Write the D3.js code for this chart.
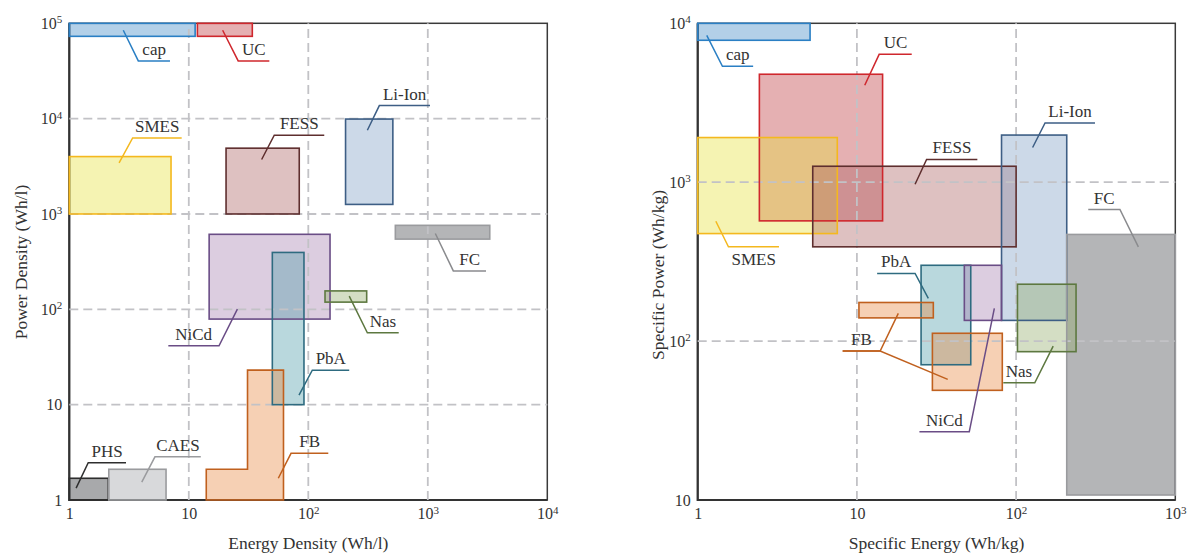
<!DOCTYPE html>
<html>
<head>
<meta charset="utf-8">
<script src="https://cdn.jsdelivr.net/npm/d3@7"></script>
<style>
  html, body { margin: 0; padding: 0; background: #fff; }
  svg text { font-family: "Liberation Serif", "Times New Roman", serif; fill: #333; }
</style>
</head>
<body>
<svg id="chart" width="1192" height="554"></svg>
<script>
// ---------- Volumetric comparison (per litre) ----------
const volTech     = ["cap", "UC", "SMES", "FESS", "Li-Ion", "FC", "NiCd", "PbA", "Nas", "PHS", "CAES"];
const volEnergyLo = [1,     11.8, 1,      20.5,   205,      535,  14.8,   50,    138,   1,     2.14];
const volEnergyHi = [11.3,  34,   7.1,    84,     510,      3300, 152,    92,    308,   2.12,  6.45];
const volPowerLo  = [73000, 73000, 1000,  1000,   1260,     545,  79,     10,    119,   1,     1];
const volPowerHi  = [100000,100000,4000,  4900,   9900,     760,  612,    395,   156,   1.69,  2.1];
// flow batteries cover a stepped region
const fbStepEnergy = [14, 31, 62];
const fbStepPower  = [1, 2.1, 23];

const volXTicks = [1, 10, 100, 1000, 10000];
const volYTicks = [1, 10, 100, 1000, 10000, 100000];

// ---------- Gravimetric comparison (per kg) ----------
const gravTech     = ["cap", "UC", "SMES", "FESS", "Li-Ion", "FC", "PbA", "NiCd", "FB", "FB", "Nas"];
const gravEnergyLo = [1,     2.44, 1,      5.28,   81,       208,  25.3,  47.3,   10.3, 29.8, 102];
const gravEnergyHi = [5.08,  14.5, 7.53,   100,    208,      1000, 51.9,  81,     30.2, 81.9, 238];
const gravPowerLo  = [7820,  571,  475,    392,    135,      10.75, 71,   135,    140,  49,   85.8];
const gravPowerHi  = [10000, 4780, 1910,   1260,   1980,     469,  300,   300,    175,  112,  228];

const gravXTicks = [1, 10, 100, 1000];
const gravYTicks = [10, 100, 1000, 10000];

// ---------- Callouts (anchor points and elbows in data units) ----------
const volCallouts = [
  { name: "cap",    anchors: [[2.83, 84500]], elbow: [3.78, 40300],  endX: 6.96 },
  { name: "UC",     anchors: [[19.2, 84500]], elbow: [25.9, 40300],  endX: 47.2 },
  { name: "SMES",   anchors: [[2.61, 3430]],  elbow: [3.39, 6280],   endX: 8.72 },
  { name: "FESS",   anchors: [[40.7, 3730]],  elbow: [51.9, 6700],   endX: 136 },
  { name: "Li-Ion", anchors: [[312, 7560]],   elbow: [393, 13700],   endX: 1043 },
  { name: "FC",     anchors: [[1156, 624]],   elbow: [1635, 253],    endX: 3070 },
  { name: "NiCd",   anchors: [[25.5, 100.5]], elbow: [17.9, 41.4],   endX: 6.74 },
  { name: "Nas",    anchors: [[220, 137.5]],  elbow: [312, 56.7],    endX: 571 },
  { name: "PbA",    anchors: [[83.6, 12.6]],  elbow: [108, 23.0],    endX: 220 },
  { name: "FB",     anchors: [[56.1, 1.69]],  elbow: [71.7, 3.09],   endX: 147 },
  { name: "PHS",    anchors: [[1.14, 1.33]],  elbow: [1.44, 2.46],   endX: 2.98 },
  { name: "CAES",   anchors: [[4.04, 1.54]],  elbow: [5.21, 2.84],   endX: 12.6 }
];
const gravCallouts = [
  { name: "cap",    anchors: [[1.14, 8400]],  elbow: [1.43, 5360],   endX: 2.23 },
  { name: "UC",     anchors: [[11.2, 4075]],  elbow: [13.8, 6380],   endX: 22.1 },
  { name: "SMES",   anchors: [[1.30, 568]],   elbow: [1.56, 392],    endX: 3.24, below: true },
  { name: "FESS",   anchors: [[23.2, 971]],   elbow: [27.4, 1390],   endX: 57.1 },
  { name: "Li-Ion", anchors: [[127, 1653]],   elbow: [152, 2360],    endX: 313 },
  { name: "FC",     anchors: [[586, 392]],    elbow: [449, 673],     endX: 284 },
  { name: "PbA",    anchors: [[28.1, 185.6]], elbow: [23.2, 266.6],  endX: 13.4 },
  { name: "FB",     anchors: [[18.2, 149.4], [37.2, 57.4]], elbow: [14.0, 86.5], endX: 8.14 },
  { name: "NiCd",   anchors: [[73.0, 160.6]], elbow: [50.8, 26.9],   endX: 24.7 },
  { name: "Nas",    anchors: [[171, 93.0]],   elbow: [131, 54.7],    endX: 83.1 }
];

// ---------- Styles ----------
const palette = {
  "cap":    { fill: "#4189c5", stroke: "#2a7fc4" },
  "UC":     { fill: "#be393e", stroke: "#cf272d" },
  "SMES":   { fill: "#e6e13e", stroke: "#f4b81e" },
  "FESS":   { fill: "#ac6464", stroke: "#5e2e2e" },
  "Li-Ion": { fill: "#7fa0c5", stroke: "#3d5e85" },
  "FC":     { fill: "#43454b", stroke: "#9a9b9e", lead: "#8a8b8e" },
  "NiCd":   { fill: "#a782b1", stroke: "#6a4d86" },
  "PbA":    { fill: "#509daa", stroke: "#2e6b80" },
  "Nas":    { fill: "#93ac6b", stroke: "#5d7840" },
  "FB":     { fill: "#e88943", stroke: "#c0601e" },
  "PHS":    { fill: "#26282d", stroke: "#2e2e2e" },
  "CAES":   { fill: "#9da0a5", stroke: "#9a9b9e" }
};
const FILL_OPACITY = 0.4;

const svg = d3.select("#chart");

// tick text as 1, 10, 10^n
function labelPow(sel) {
  sel.each(function (d) {
    const t = d3.select(this);
    t.text(null);
    const e = Math.round(Math.log10(d));
    if (e === 0) { t.text("1"); return; }
    if (e === 1) { t.text("10"); return; }
    t.append("tspan").text("10");
    t.append("tspan").attr("dy", "-0.5em").attr("font-size", "11px").text(e);
  });
}

function drawPanel(cfg) {
  const x = d3.scaleLog().domain(cfg.xDomain).range(cfg.xRange);
  const y = d3.scaleLog().domain(cfg.yDomain).range(cfg.yRange);
  const g = svg.append("g");
  const [x0, x1] = cfg.xRange, [y0, y1] = cfg.yRange; // y0 bottom, y1 top

  // frame
  g.append("rect").attr("x", x0).attr("y", y1).attr("width", x1 - x0).attr("height", y0 - y1)
    .attr("fill", "none").attr("stroke", "#3a3a3a").attr("stroke-width", 1.5);
  g.append("path").attr("d", `M${x0},${y1}V${y0}H${x1}`)
    .attr("fill", "none").attr("stroke", "#333").attr("stroke-width", 2.2);

  const shape = (sel, r) => {
    if (r.poly) {
      return sel.append("path").attr("d", d3.line().x(p => x(p[0])).y(p => y(p[1]))(r.poly) + "Z");
    }
    return sel.append("rect")
      .attr("x", x(r.xl)).attr("y", y(r.yh))
      .attr("width", x(r.xh) - x(r.xl)).attr("height", y(r.yl) - y(r.yh));
  };

  // region fills
  const fills = g.append("g").attr("fill-opacity", FILL_OPACITY).attr("stroke", "none");
  cfg.regions.forEach(r => shape(fills, r).attr("fill", palette[r.name].fill));

  // dashed grid over the fills
  const grid = g.append("g").attr("stroke", "#c2c2c6").attr("stroke-width", 1.8)
    .attr("stroke-dasharray", "9,5").attr("fill", "none");
  cfg.xGrid.forEach(v => grid.append("line").attr("x1", x(v)).attr("x2", x(v)).attr("y1", y0).attr("y2", y1));
  cfg.yGrid.forEach(v => grid.append("line").attr("y1", y(v)).attr("y2", y(v)).attr("x1", x0).attr("x2", x1));

  // region outlines
  const outlines = g.append("g").attr("fill", "none").attr("stroke-width", 1.6);
  cfg.regions.forEach(r => shape(outlines, r).attr("stroke", palette[r.name].stroke));

  // axes
  const ax = g.append("g").attr("transform", `translate(0,${y0})`)
    .call(d3.axisBottom(x).tickValues(cfg.xTicks).tickSize(0).tickPadding(8));
  const ay = g.append("g").attr("transform", `translate(${x0},0)`)
    .call(d3.axisLeft(y).tickValues(cfg.yTicks).tickSize(0).tickPadding(7));
  [ax, ay].forEach(a => {
    a.attr("font-family", null).attr("font-size", null);
    a.select(".domain").remove();
    a.selectAll("text").attr("font-size", "16px").attr("fill", "#333").call(labelPow);
  });

  // axis titles
  g.append("text").attr("x", (x0 + x1) / 2).attr("y", 549).attr("text-anchor", "middle")
    .attr("font-size", "17.5px").text(cfg.xTitle);
  g.append("text").attr("transform", `translate(${cfg.yTitlePos[0]},${cfg.yTitlePos[1]}) rotate(-90)`)
    .attr("text-anchor", "middle").attr("dy", "0.35em").attr("font-size", "17.5px").text(cfg.yTitle);

  // callouts
  const lead = g.append("g").attr("fill", "none").attr("stroke-width", 1.5);
  cfg.callouts.forEach(c => {
    const st = palette[c.name];
    const ex = x(c.elbow[0]), ey = y(c.elbow[1]), endx = x(c.endX);
    const col = st.lead || st.stroke;
    c.anchors.forEach(a => {
      lead.append("path").attr("d", `M${x(a[0])},${y(a[1])}L${ex},${ey}L${endx},${ey}`).attr("stroke", col);
    });
    g.append("text").attr("x", (ex + endx) / 2).attr("y", c.below ? ey + 18 : ey - 6)
      .attr("text-anchor", "middle").attr("font-size", "17px").text(c.name);
  });
}

// ---- left panel ----
const volRegions = volTech.map((n, i) => ({
  name: n, xl: volEnergyLo[i], xh: volEnergyHi[i], yl: volPowerLo[i], yh: volPowerHi[i]
}));
const fbPoly = [
  [fbStepEnergy[0], fbStepPower[0]], [fbStepEnergy[0], fbStepPower[1]],
  [fbStepEnergy[1], fbStepPower[1]], [fbStepEnergy[1], fbStepPower[2]],
  [fbStepEnergy[2], fbStepPower[2]], [fbStepEnergy[2], fbStepPower[0]]
];
// FB sits above the lead-acid bar, below PHS/CAES in drawing order
volRegions.splice(9, 0, { name: "FB", poly: fbPoly });

drawPanel({
  xDomain: [1, 1e4], xRange: [69.3, 547.3],
  yDomain: [1, 1e5], yRange: [500, 23.3],
  regions: volRegions,
  xGrid: [10, 100, 1000], yGrid: [10, 100, 1000, 10000],
  xTicks: volXTicks, yTicks: volYTicks,
  xTitle: "Energy Density (Wh/l)", yTitle: "Power Density (Wh/l)", yTitlePos: [21, 262],
  callouts: volCallouts
});

// ---- right panel ----
const gravRegions = gravTech.map((n, i) => ({
  name: n, xl: gravEnergyLo[i], xh: gravEnergyHi[i], yl: gravPowerLo[i], yh: gravPowerHi[i]
}));

drawPanel({
  xDomain: [1, 1e3], xRange: [697.7, 1175.3],
  yDomain: [10, 1e4], yRange: [500, 23.3],
  regions: gravRegions,
  xGrid: [10, 100], yGrid: [100, 1000],
  xTicks: gravXTicks, yTicks: gravYTicks,
  xTitle: "Specific Energy (Wh/kg)", yTitle: "Specific Power (Wh/kg)", yTitlePos: [658, 275],
  callouts: gravCallouts
});
</script>
</body>
</html>
